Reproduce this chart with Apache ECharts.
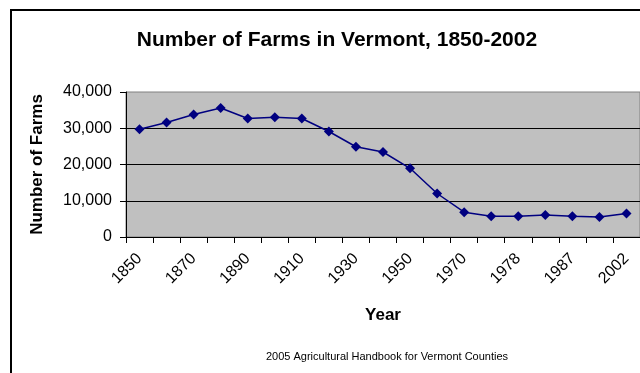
<!DOCTYPE html>
<html>
<head>
<meta charset="utf-8">
<script src="https://cdn.jsdelivr.net/npm/echarts@6/dist/echarts.min.js"></script>
<style>
html,body{margin:0;padding:0;background:#fff;}
#chart{width:640px;height:373px;}
</style>
</head>
<body>
<div id="chart"></div>
<script>
var years = ['1850','1860','1870','1880','1890','1900','1910','1920','1930','1940','1950','1959','1970','1974','1978','1982','1987','1997','2002'];
var farms = [29750, 31580, 33800, 35600, 32700, 33050, 32700, 29100, 24900, 23450, 18950, 12000, 6850, 5750, 5750, 6100, 5750, 5500, 6500];
var yTicks = [0, 10000, 20000, 30000, 40000];
var titleText = 'Number of Farms in Vermont, 1850-2002';
var sourceText = '2005 Agricultural Handbook for Vermont Counties';

var FONT = '"Liberation Sans", Arial, sans-serif';
var chart = echarts.init(document.getElementById('chart'), null, {renderer: 'canvas'});
chart.setOption({
  animation: false,
  backgroundColor: '#ffffff',
  title: [{
    text: titleText,
    left: 332, top: 25, textAlign: 'center',
    textStyle: {fontFamily: FONT, fontSize: 21, fontWeight: 'bold', color: '#000'}
  }, {
    text: sourceText,
    left: 382, top: 346, textAlign: 'center',
    textStyle: {fontFamily: FONT, fontSize: 11, fontWeight: 'normal', color: '#000'}
  }],
  graphic: [{
    type: 'rect', silent: true, z: 100,
    shape: {x: 11, y: 10, width: 800, height: 500},
    style: {fill: 'none', stroke: '#000', lineWidth: 2}
  }],
  grid: {
    left: 126, top: 92, width: 516, height: 145,
    show: true, backgroundColor: '#c0c0c0', borderColor: '#808080', borderWidth: 1
  },
  xAxis: {
    type: 'category',
    data: years,
    boundaryGap: true,
    name: 'Year',
    nameLocation: 'middle',
    nameGap: 70,
    nameTextStyle: {fontFamily: FONT, fontSize: 17, fontWeight: 'bold', color: '#000'},
    axisLine: {lineStyle: {color: '#000', width: 1}},
    axisTick: {show: true, interval: 0, length: 6, lineStyle: {color: '#000'}},
    axisLabel: {interval: 1, rotate: 45, margin: 19, fontFamily: FONT, fontSize: 16, color: '#000'},
    splitLine: {show: false}
  },
  yAxis: {
    type: 'value',
    min: yTicks[0], max: yTicks[yTicks.length - 1], interval: 10000,
    name: 'Number of Farms',
    nameLocation: 'middle',
    nameGap: 80,
    nameTextStyle: {fontFamily: FONT, fontSize: 17, fontWeight: 'bold', color: '#000'},
    axisLine: {show: true, lineStyle: {color: '#000', width: 1}},
    axisTick: {show: true, length: 6, lineStyle: {color: '#000'}},
    axisLabel: {
      margin: 14, fontFamily: FONT, fontSize: 16, color: '#000',
      formatter: function (v) { return v.toLocaleString('en-US'); }
    },
    splitLine: {show: true, showMaxLine: false, lineStyle: {color: '#000', width: 1}}
  },
  series: [{
    type: 'line',
    data: farms,
    symbol: 'diamond',
    symbolSize: 10,
    lineStyle: {color: '#000080', width: 1.5},
    itemStyle: {color: '#000080'}
  }]
});
</script>
</body>
</html>
